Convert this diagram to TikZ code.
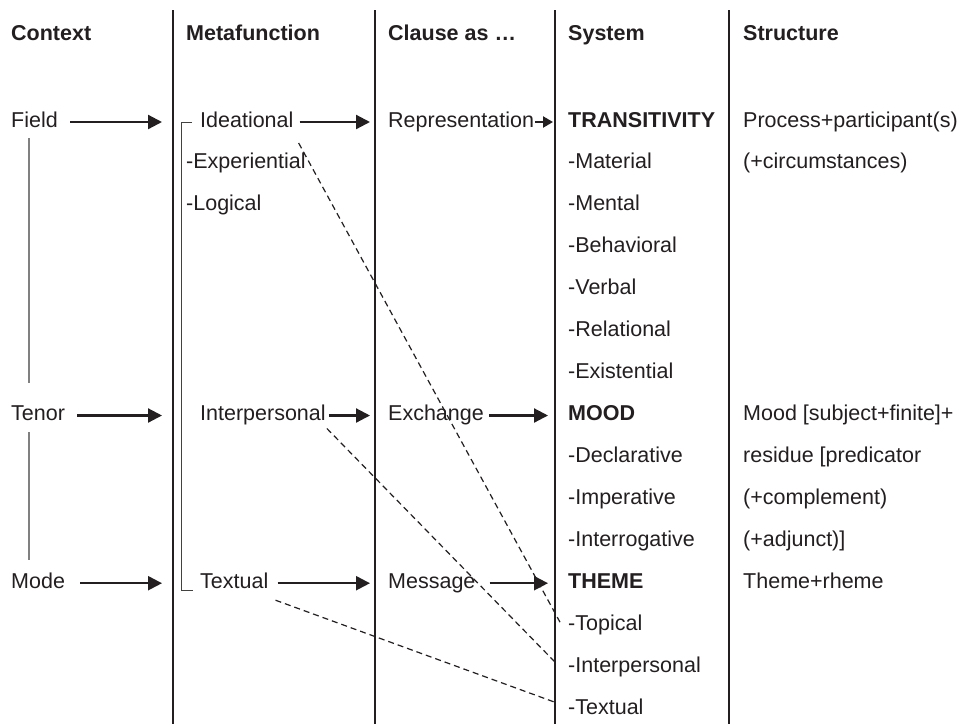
\documentclass[tikz,border=0pt]{standalone}
\usepackage{fontspec}
\setmainfont{Liberation Sans}
\usetikzlibrary{arrows.meta,calc}
\definecolor{ink}{RGB}{35,31,32}
\newcommand\rowarrow[5]{\draw[#5] ($(#1.base east)+(#2,-5)$) -- ($(#1.base east -| #3)+(#4,-5)$);}
\begin{document}
\begin{tikzpicture}[x=1pt,y=-1pt,
  txt/.style={anchor=base west, inner sep=0pt, text=ink, font=\fontsize{21.5}{26}\selectfont},
  hdr/.style={txt, font=\fontsize{21.5}{26}\selectfont\bfseries},
  colline/.style={line width=2.2pt, draw=ink},
  arr/.style={line width=2.2pt, draw=ink, -{Triangle[length=14pt,width=14pt]}},
  sarr/.style={line width=2.2pt, draw=ink, -{Triangle[length=10pt,width=11pt]}},
  link/.style={draw=ink, line width=1.2pt, dash pattern=on 6pt off 4pt},
  bracketline/.style={draw=ink!85, line width=1pt},
  ctxline/.style={draw=gray, line width=1.4pt}
]
\useasboundingbox (0,0) rectangle (964,724);
\fill[white] (0,0) rectangle (964,724);
% column lines
\coordinate (c1) at (173,10);
\coordinate (c2) at (375,10);
\coordinate (c3) at (555,10);
\coordinate (c4) at (729,10);
\foreach \c in {c1,c2,c3,c4} \draw[colline] (\c) -- ++(0,714);
% headers
\node[hdr] (h1) at (11,40) {Context};
\node[hdr] (h2) at (186,40) {Metafunction};
\node[hdr] (h3) at (388,40) {Clause as …};
\node[hdr] (h4) at (568,40) {System};
\node[hdr] (h5) at (743,40) {Structure};
% context
\node[txt] (field) at (11,127) {Field};
\node[txt] (tenor) at (11,420.5) {Tenor};
\node[txt] (mode) at (11,588.2) {Mode};
% metafunction
\node[txt] (ideat) at (200,127) {Ideational};
\node[txt] (exper) at (186,168.9) {-Experiential};
\node[txt] (logic) at (186,210.9) {-Logical};
\node[txt] (interp) at (200,420.5) {Interpersonal};
\node[txt] (textual) at (200,588.2) {Textual};
% clause as
\node[txt] (repr) at (388,127) {Representation};
\node[txt] (exch) at (388,420.5) {Exchange};
\node[txt] (msg) at (388,588.2) {Message};
% system
\node[hdr] (trans) at (568,127) {TRANSITIVITY};
\node[txt] (mat) at (568,168.9) {-Material};
\node[txt] (ment) at (568,210.9) {-Mental};
\node[txt] (beh) at (568,252.8) {-Behavioral};
\node[txt] (verb) at (568,294.7) {-Verbal};
\node[txt] (rel) at (568,336.7) {-Relational};
\node[txt] (exis) at (568,378.6) {-Existential};
\node[hdr] (mood) at (568,420.5) {MOOD};
\node[txt] (decl) at (568,462.4) {-Declarative};
\node[txt] (imp) at (568,504.4) {-Imperative};
\node[txt] (inter) at (568,546.3) {-Interrogative};
\node[hdr] (theme) at (568,588.2) {THEME};
\node[txt] (topical) at (568,630.2) {-Topical};
\node[txt] (sinterp) at (568,672.1) {-Interpersonal};
\node[txt] (stextual) at (568,714) {-Textual};
% structure
\node[txt] (s1) at (743,127) {Process+participant(s)};
\node[txt] (s2) at (743,168.9) {(+circumstances)};
\node[txt] (s3) at (743,420.5) {Mood [subject+finite]+};
\node[txt] (s4) at (743,462.4) {residue [predicator};
\node[txt] (s5) at (743,504.4) {(+complement)};
\node[txt] (s6) at (743,546.3) {(+adjunct)]};
\node[txt] (s7) at (743,588.2) {Theme+rheme};
% context connecting lines
\draw[ctxline] ($(field.base west)+(18,11)$) -- ($(tenor.base west)+(18,-38)$);
\draw[ctxline] ($(tenor.base west)+(18,11.5)$) -- ($(mode.base west)+(18,-28)$);
% bracket
\draw[bracketline] ($(ideat.base west)+(-8,-4.5)$) -- ++(-10.5,0) |- ($(textual.base west)+(-7,2)$);
% arrows
\rowarrow{field}{12}{c1}{-11}{arr}
\rowarrow{tenor}{12}{c1}{-11}{arr}
\rowarrow{mode}{15}{c1}{-11}{arr}
\rowarrow{ideat}{6}{c2}{-5}{arr}
\rowarrow{interp}{3}{c2}{-5}{arr}
\rowarrow{textual}{9}{c2}{-5}{arr}
\rowarrow{repr}{1}{c3}{-2}{sarr}
\rowarrow{exch}{5}{c3}{-7}{arr}
\rowarrow{msg}{14}{c3}{-7}{arr}
% dashed links
\draw[link] ($(ideat.base east)+(5,16)$) -- ($(topical.base west)+(-8,-8)$);
\draw[link] ($(interp.base east)+(1,8)$) -- ($(sinterp.base west)+(-12,-9)$);
\draw[link] ($(textual.base east)+(7,12)$) -- ($(stextual.base west)+(-11,-11)$);
\end{tikzpicture}
\end{document}
